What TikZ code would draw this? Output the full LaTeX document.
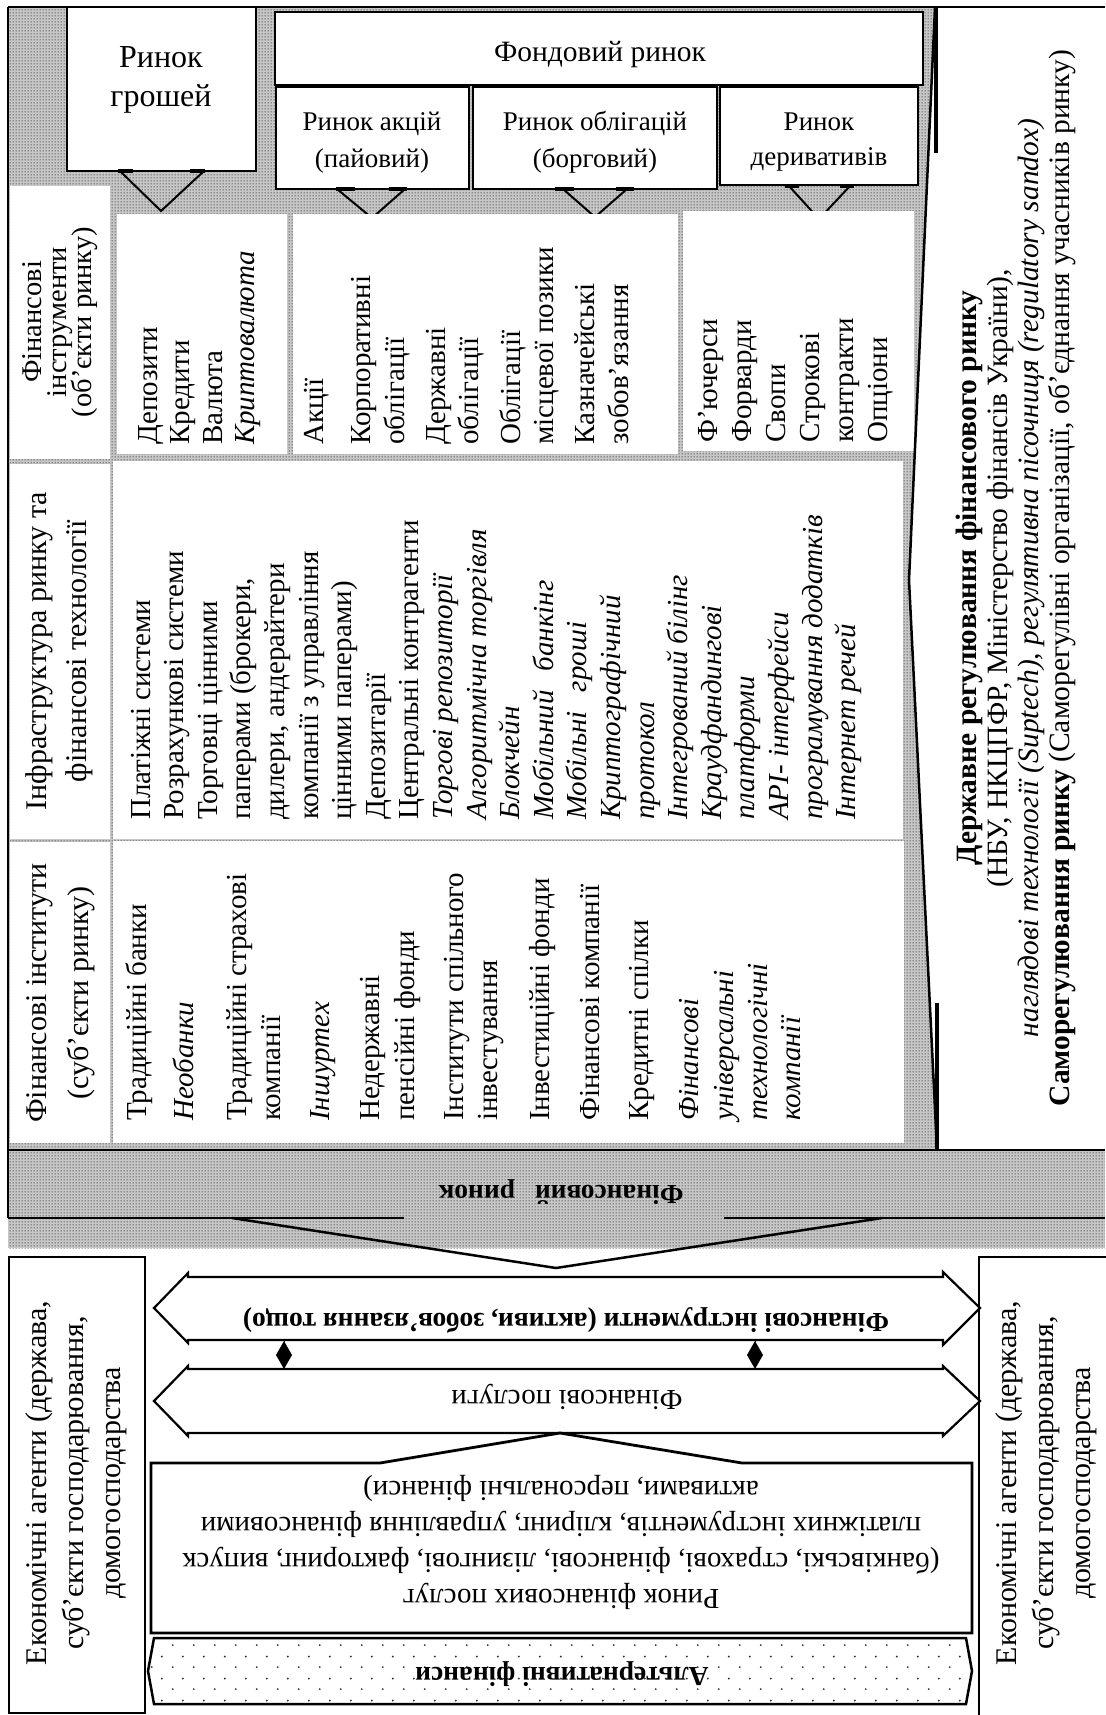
\documentclass[tikz,border=0pt]{standalone}
\usepackage{fontspec}
\setmainfont{Liberation Serif}
\usetikzlibrary{patterns}
\pgfdeclarepatternformonly{densedots}{\pgfqpoint{0pt}{0pt}}{\pgfqpoint{3pt}{3pt}}{\pgfqpoint{3pt}{3pt}}{\pgfpathcircle{\pgfqpoint{1.5pt}{1.5pt}}{0.8pt}\pgfusepath{fill}}
\pgfdeclarepatternformonly{sparsedots}{\pgfqpoint{0pt}{0pt}}{\pgfqpoint{21pt}{22pt}}{\pgfqpoint{21pt}{22pt}}{\pgfpathcircle{\pgfqpoint{5pt}{5pt}}{1.1pt}\pgfpathcircle{\pgfqpoint{15.5pt}{16pt}}{1.1pt}\pgfusepath{fill}}
\newcommand\fsBody{\fontsize{29}{33}\selectfont}
\newcommand\fsHOne{\fontsize{28.5}{33}\selectfont}
\newcommand\fsHead{\fontsize{30}{34}\selectfont}
\newcommand\fsReg{\fontsize{29.5}{34}\selectfont}
\newcommand\fsBig{\fontsize{32}{38}\selectfont}
\newcommand\fsFond{\fontsize{29.5}{34}\selectfont}
\newcommand\fsSub{\fontsize{27}{32}\selectfont}
\newcommand\fsAg{\fontsize{30}{35}\selectfont}
\newcommand\fsServ{\fontsize{29}{34}\selectfont}
\newcommand\fsBold{\fontsize{27.5}{32}\selectfont\bfseries}
\begin{document}
\begin{tikzpicture}[x=1pt,y=-1pt,
  rl/.style={rotate=90,anchor=base west,inner sep=0pt,font=\fsBody},
  rc/.style={rotate=90,anchor=base,inner sep=0pt},
  ud/.style={rotate=180,anchor=base,inner sep=0pt},
  hz/.style={anchor=base,inner sep=0pt},
  tbox/.style={draw,line width=2.2pt,fill=white},
  dbox/.style={draw,double,double distance=1.2pt,line width=0.8pt,fill=white},
  greyfill/.style={fill=black!22},
  dotfill/.style={pattern=densedots,pattern color=black!85},
  edgeline/.style={line width=2.5pt},
  vline/.style={line width=2pt,line join=miter},
  stub/.style={line width=3.5pt},
  agbox/.style={draw,line width=1.2pt,fill=white},
  blockarrow/.style={draw,line width=2.2pt,fill=white,line join=miter}]
\useasboundingbox (0,0) rectangle (1105,1715);
\fill[white] (0,0) rectangle (1105,1715);

% ---------- dotted financial-market area ----------
\fill[greyfill] (8,7) -- (935,7) -- (909,580) -- (937,1150) -- (8,1150) -- cycle;
\fill[greyfill] (8,1150) rectangle (1105,1248);
\fill[dotfill] (8,7) -- (935,7) -- (909,580) -- (937,1150) -- (8,1150) -- cycle;
\fill[dotfill] (8,1150) rectangle (1105,1248);

% ---------- top: markets ----------
\draw[tbox] (67,7) rectangle (256,171);
\draw[tbox] (275,12) rectangle (923,85);
\draw[tbox] (276,87) rectangle (469,189);
\draw[tbox] (473,87) rectangle (717,189);
\draw[tbox] (720,87) rectangle (918,185);

\node[hz,font=\fsBig] (rg1) at (161,68) {Ринок};
\node[hz,font=\fsBig] (rg2) at (161,107) {грошей};
\node[hz,font=\fsFond] (fr) at (600,62) {Фондовий ринок};
\node[hz,font=\fsSub] (ra1) at (372,131) {Ринок акцій};
\node[hz,font=\fsSub] (ra2) at (372,168) {(пайовий)};
\node[hz,font=\fsSub] (ro1) at (595,131) {Ринок облігацій};
\node[hz,font=\fsSub] (ro2) at (595,168) {(борговий)};
\node[hz,font=\fsSub] (rd1) at (819,131) {Ринок};
\node[hz,font=\fsSub] (rd2) at (819,166) {деривативів};

% pointers
\draw[vline] (120,171) -- (161,211) -- (204,171);
\draw[stub] (118,171) -- (133,171) (190,171) -- (205,171);
\draw[vline] (337,189) -- (372,218) -- (405,189);
\draw[stub] (336,189) -- (355,189) (389,189) -- (407,189);
\draw[vline] (563,189) -- (595,217) -- (627,189);
\draw[stub] (555,189) -- (574,189) (616,189) -- (634,189);
\draw[vline] (789,186) -- (819,219) -- (850,186);
\draw[stub] (785,186) -- (799,186) (840,186) -- (854,186);

% ---------- column boxes ----------
\draw[dbox] (11,187) rectangle (109,458);
\draw[dbox] (118,215) rectangle (286,453);
\draw[dbox] (294,215) rectangle (677,453);
\draw[dbox] (684,212) rectangle (913,450);
\draw[dbox] (11,465) rectangle (109,838);
\draw[dbox] (114,462) rectangle (902,838);
\draw[dbox] (11,843) rectangle (109,1142);
\draw[dbox] (114,842) rectangle (903,1142);

% headers
\node[rc,font=\fsHOne] (h1a) at (41,322) {Фінансові};
\node[rc,font=\fsHOne] (h1b) at (66,322) {інструменти};
\node[rc,font=\fsHOne] (h1c) at (91,322) {(об’єкти ринку)};
\node[rc,font=\fsHead] (h2a) at (46,651) {Інфраструктура ринку та};
\node[rc,font=\fsHead] (h2b) at (86,651) {фінансові технології};
\node[rc,font=\fsHead] (h3a) at (46,993) {Фінансові інститути};
\node[rc,font=\fsHead] (h3b) at (88,993) {(суб’єкти ринку)};

% money instruments
\foreach \t/\x [count=\i] in {Депозити/157,Кредити/189.5,Валюта/222,{\itshape Криптовалюта}/254.5}
  \node[rl] (mon\i) at (\x,445) {\t};
% stock instruments
\foreach \t/\x [count=\i] in {Акції/323,Корпоративні/370,облігації/404,Державні/445,облігації/478,Облігації/520,місцевої позики/553,Казначейські/594,зобов’язання/628}
  \node[rl] (stk\i) at (\x,445) {\t};
% derivatives
\foreach \t/\x [count=\i] in {Ф’ючерси/717,Форварди/751,Свопи/785,Строкові/819,контракти/853,Опціони/887}
  \node[rl] (der\i) at (\x,443) {\t};
% infrastructure
\foreach \t/\x [count=\i] in {Платіжні системи/150,Розрахункові системи/183.6,Торговці цінними/217.2,{паперами (брокери,}/250.8,{дилери, андерайтери}/284.4,компанії з управління/318,цінними паперами)/351.6,Депозитарії/385.2,Центральні контрагенти/418.8,{\itshape Торгові репозиторії}/452.4,{\itshape Алгоритмічна торгівля}/486,{\itshape Блокчейн}/519.6,{\itshape Мобільний\hspace{0.4em} банкінг}/553.2,{\itshape Мобільні\hspace{0.4em} гроші}/586.8,{\itshape Криптографічний}/620.4,{\itshape протокол}/654,{\itshape Інтегрований білінг}/687.6,{\itshape Краудфандингові}/721.2,{\itshape платформи}/754.8,{\itshape API- інтерфейси}/788.4,{\itshape програмування додатків}/822,{\itshape Інтернет речей}/855.6}
  \node[rl] (inf\i) at (\x,820) {\t};
% institutions
\foreach \t/\x [count=\i] in {Традиційні банки/146,{\itshape Необанки}/193,Традиційні страхові/246,компанії/280,{\itshape Іншуртех}/329,Недержавні/379,пенсійні фонди/414,Інститути спільного/463,інвестування/497,Інвестиційні фонди/549,Фінансові компанії/599,Кредитні спілки/648,{\itshape Фінансові}/698,{\itshape універсальні}/733,{\itshape технологічні}/767,{\itshape компанії}/800}
  \node[rl] (ins\i) at (\x,1121) {\t};

% ---------- borders of the market area ----------
\draw[edgeline] (8,7) -- (1105,7);
\draw[edgeline] (8,7) -- (8,1218);
\draw[edgeline,line join=miter] (935,7) -- (909,580) -- (937,1150);
\draw[stub] (936,7) -- (936,153);
\draw[stub] (937,1003) -- (937,1150);

% regulation text
\node[rc,font=\fsReg] (reg1) at (976,578) {\bfseries Державне регулювання фінансового ринку};
\node[rc,font=\fsReg] (reg2) at (1007,578) {(НБУ, НКЦПФР, Міністерство фінансів України),};
\node[rc,font=\fsReg] (reg3) at (1038,578) {\itshape наглядові технології (Suptech), регулятивна пісочниця (regulatory sandox)};
\node[rc,font=\fsReg] (reg4) at (1069,578) {\textbf{Саморегулювання ринку} (Саморегулівні організації, об’єднання учасників ринку)};

% ---------- financial market band ----------
\draw[edgeline] (8,1150) -- (1105,1150);
\draw[edgeline] (8,1218) -- (404,1218);
\draw[edgeline] (724,1218) -- (1105,1218);
\draw[edgeline,line join=miter] (232,1218) -- (556,1268) -- (882,1218);
\node[ud,font=\fsBold] (fm) at (561,1185) {Фінансовий\hspace{20pt}ринок};

% ---------- economic agents ----------
\draw[agbox] (9,1257) rectangle (145,1713);
\draw[agbox] (979,1257) rectangle (1125,1725);
\node[rc,font=\fsAg] (ea1) at (46,1483) {Економічні агенти (держава,};
\node[rc,font=\fsAg] (ea2) at (83,1483) {суб’єкти господарювання,};
\node[rc,font=\fsAg] (ea3) at (120,1483) {домогосподарства};
\node[rc,font=\fsAg] (eb1) at (1016,1483) {Економічні агенти (держава,};
\node[rc,font=\fsAg] (eb2) at (1053,1483) {суб’єкти господарювання,};
\node[rc,font=\fsAg] (eb3) at (1090,1483) {домогосподарства};

% ---------- double arrows ----------
\draw[blockarrow] (154,1308) -- (188,1273) -- (188,1277) -- (943,1277) -- (943,1272) -- (980,1308)
  -- (943,1345) -- (943,1340) -- (188,1340) -- (188,1343) -- cycle;
\node[ud,font=\fsBold] (fi) at (566,1313) {Фінансові інструменти (активи, зобов’язання тощо)};
\draw[blockarrow] (154,1401) -- (188,1366) -- (188,1369) -- (943,1369) -- (943,1366) -- (980,1401)
  -- (943,1436) -- (943,1433) -- (188,1433) -- (188,1436) -- cycle;
\node[ud,font=\fsServ] (fp) at (567,1390) {Фінансові послуги};
\foreach \x in {284,755} {
  \fill (\x,1341) -- (\x-8,1355) -- (\x+8,1355) -- cycle;
  \fill (\x,1369) -- (\x-8,1355) -- (\x+8,1355) -- cycle;
  \draw[line width=0.6pt] (\x,1341) -- (\x,1369);
}

% ---------- financial services market ----------
\draw[draw,line width=2.8pt,fill=white,line join=miter] (151,1463) -- (380,1463) -- (560,1433) -- (742,1463)
  -- (972,1463) -- (972,1633) -- (151,1633) -- cycle;
\node[ud,font=\fsServ] (fs1) at (561,1589) {Ринок фінансових послуг};
\node[ud,font=\fsServ] (fs2) at (561,1553) {(банківські, страхові, фінансові, лізингові, факторинг, випуск};
\node[ud,font=\fsServ] (fs3) at (561,1517) {платіжних інструментів, кліринг, управління фінансовими};
\node[ud,font=\fsServ] (fs4) at (561,1481) {активами, персональні фінанси)};

% ---------- alternative finance ----------
\draw[line width=2.5pt,fill=white,line join=miter] (154,1638) -- (966,1638) -- (972,1671) -- (966,1704)
  -- (154,1704) -- (148,1671) -- cycle;
\fill[pattern=sparsedots,pattern color=black!80] (154,1640) -- (966,1640) -- (971,1671) -- (966,1702)
  -- (154,1702) -- (149,1671) -- cycle;
\node[ud,font=\fsBold] (alt) at (562,1667) {Альтернативні фінанси};
\end{tikzpicture}
\end{document}
